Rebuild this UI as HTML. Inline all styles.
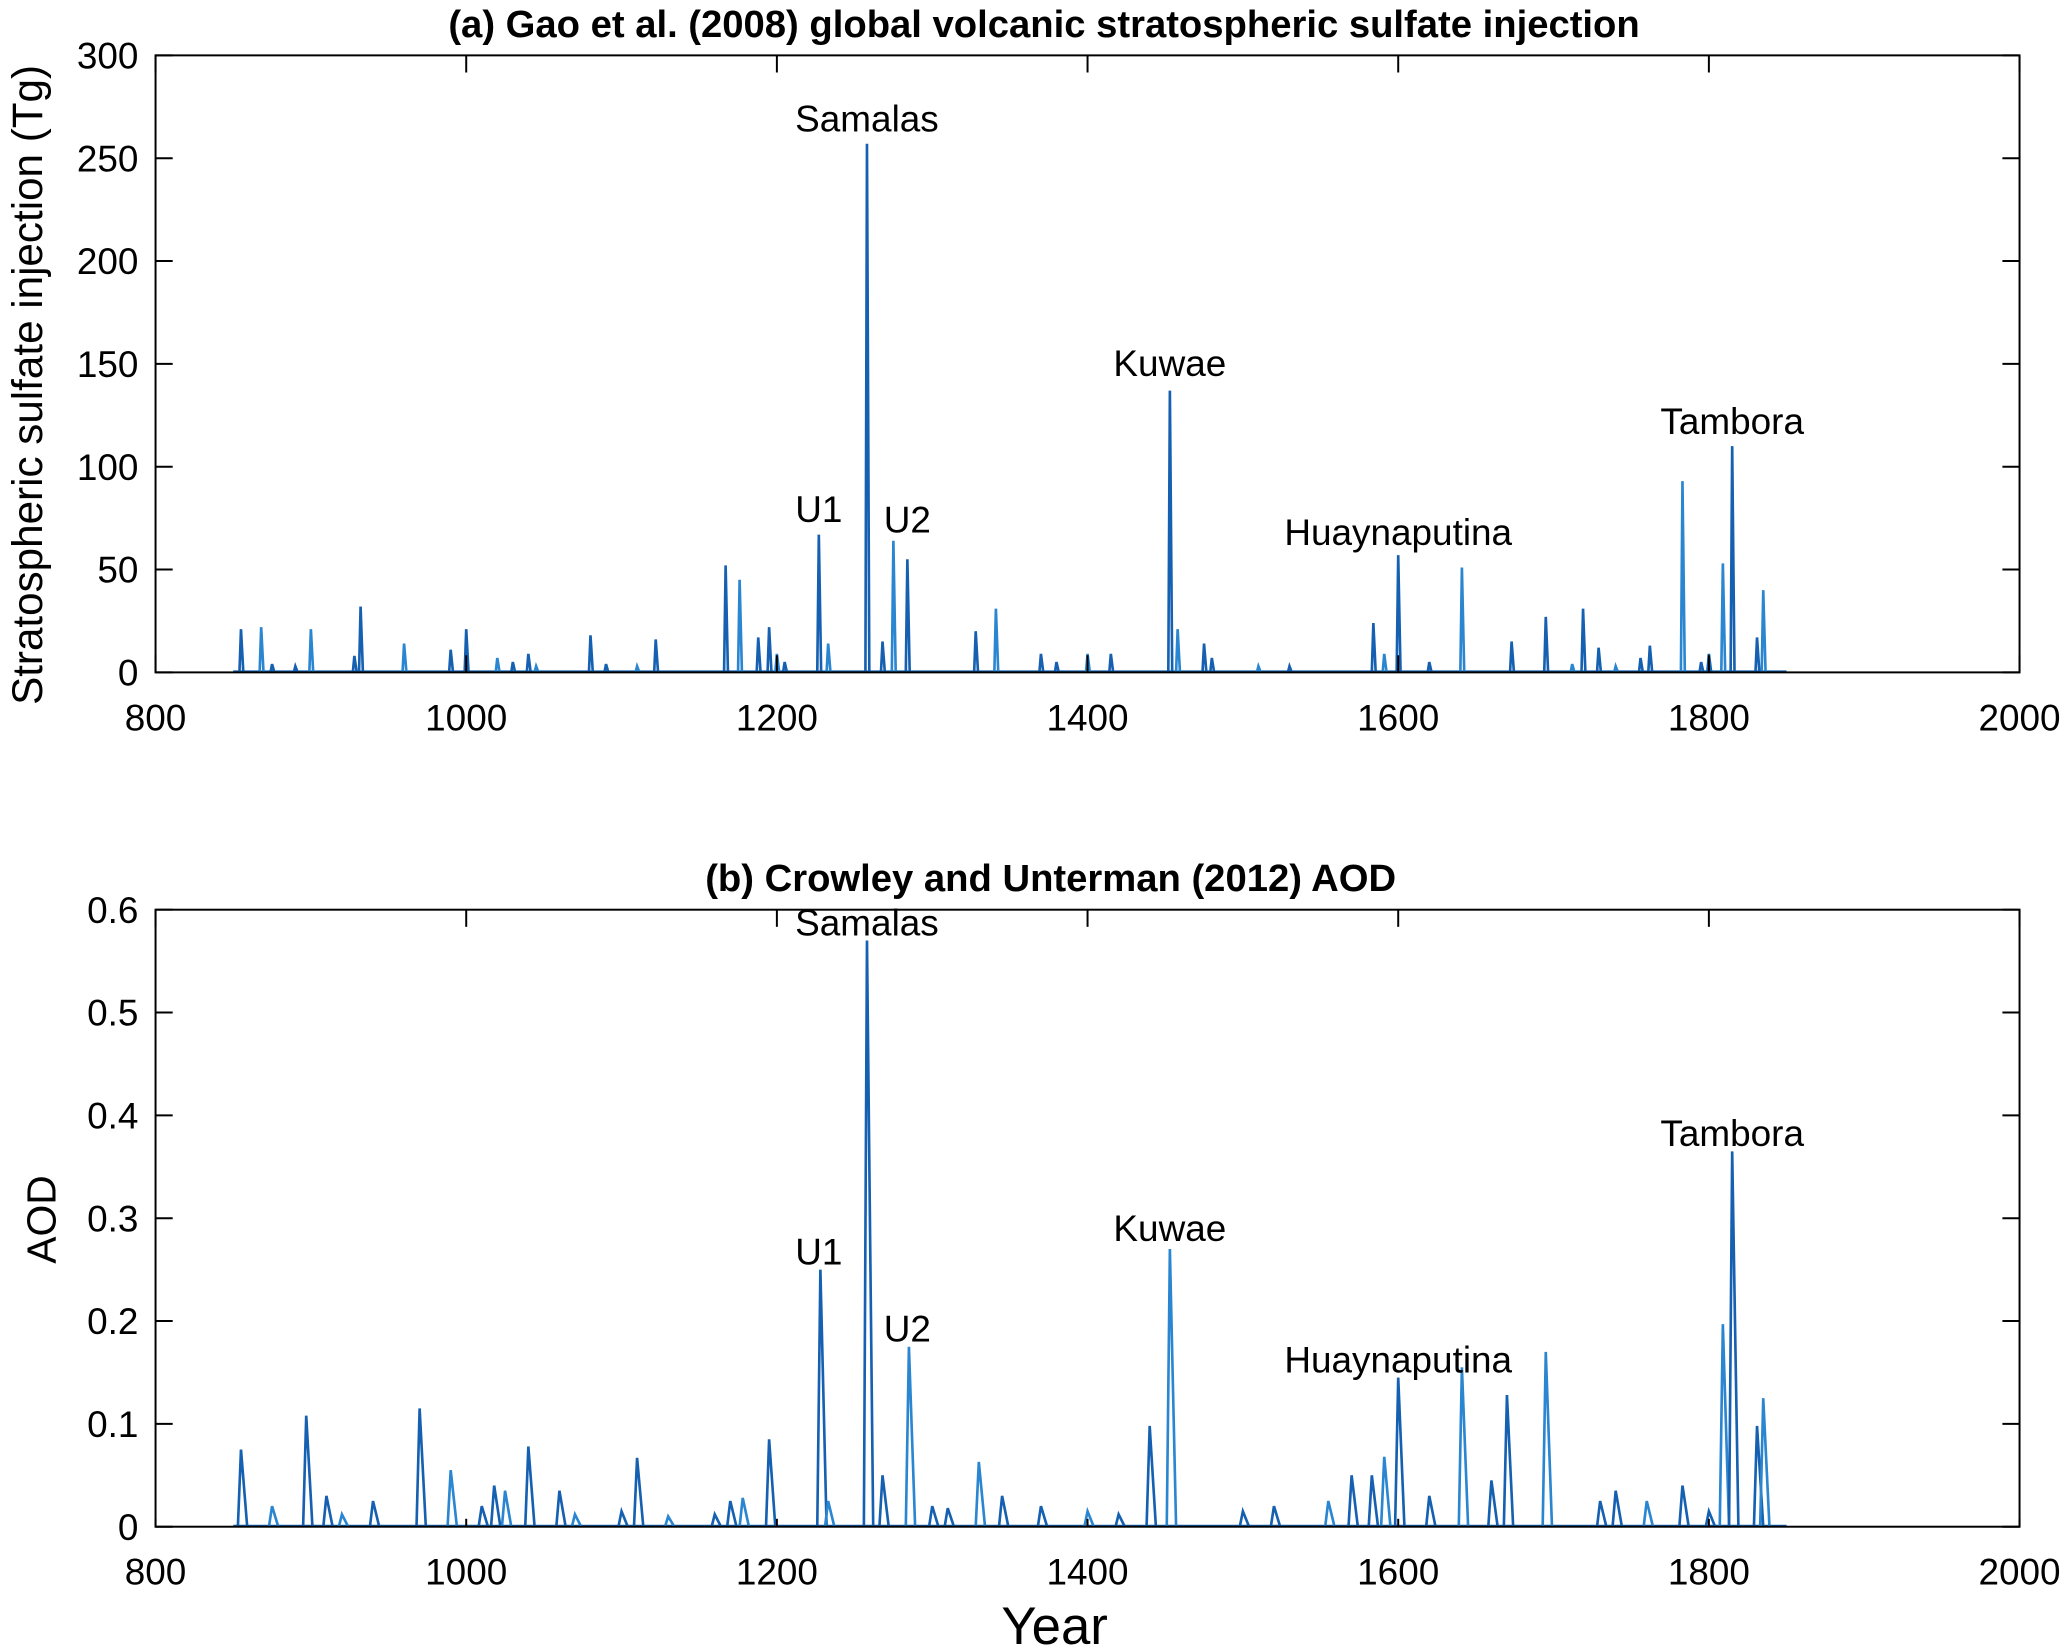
<!DOCTYPE html>
<html><head><meta charset="utf-8"><style>
html,body{margin:0;padding:0;background:#fff;}
svg{display:block;font-family:"Liberation Sans",sans-serif;}
</style></head><body>
<svg id="chart" width="2067" height="1648" viewBox="0 0 1568 1250" preserveAspectRatio="none" xmlns="http://www.w3.org/2000/svg"></svg>
<script>
const xTicks=[800,1000,1200,1400,1600,1800,2000];
const yTicksA=[0,50,100,150,200,250,300];
const yTicksB=[0,0.1,0.2,0.3,0.4,0.5,0.6];
const yTickLabelsB=["0","0.1","0.2","0.3","0.4","0.5","0.6"];
const gaoYears=[855,868,875,890,900,928,932,960,990,1000,1020,1030,1040,1045,1080,1090,1110,1122,1167,1176,1188,1195,1200,1205,1227,1233,1258,1268,1275,1284,1328,1341,1370,1380,1400,1415,1453,1458,1475,1480,1510,1530,1584,1591,1600,1620,1641,1673,1695,1712,1719,1729,1740,1756,1762,1783,1795,1800,1809,1815,1831,1835];
const gaoValues=[21,22,4,3,21,8,32,14,11,21,7,5,9,3,18,4,3,16,52,45,17,22,9,5,67,14,257,15,64,55,20,31,9,5,9,9,137,21,14,7,3,3,24,9,57,5,51,15,27,4,31,12,3,7,13,93,5,9,53,110,17,40];
const aodYears=[855,875,897,910,920,940,970,990,1010,1018,1025,1040,1060,1070,1100,1110,1130,1160,1170,1178,1195,1228,1233,1258,1268,1285,1300,1310,1330,1345,1370,1400,1420,1440,1453,1500,1520,1555,1570,1583,1591,1600,1620,1641,1660,1670,1695,1730,1740,1760,1783,1800,1809,1815,1831,1835];
const aodValues=[0.075,0.02,0.108,0.03,0.012,0.025,0.115,0.055,0.02,0.04,0.035,0.078,0.035,0.012,0.015,0.067,0.01,0.012,0.025,0.028,0.085,0.25,0.025,0.57,0.05,0.175,0.02,0.018,0.063,0.03,0.02,0.015,0.012,0.098,0.27,0.015,0.02,0.025,0.05,0.05,0.068,0.145,0.03,0.155,0.045,0.128,0.17,0.025,0.035,0.025,0.04,0.015,0.197,0.365,0.098,0.125];
const labelNames=["Samalas","U1","U2","Kuwae","Huaynaputina","Tambora"];
const labelYearsA=[1258,1227,1284,1453,1600,1815];
const labelValA=[263,73,68,144,62,116];
const labelValB=[0.575,0.255,0.18,0.278,0.15,0.37];

const NS="http://www.w3.org/2000/svg";
const svg=document.getElementById('chart');
const L=118,R=1532;
function sx(y){return L+(y-800)/1200*(R-L);}
function mk(tag,attrs,parent){const e=document.createElementNS(NS,tag);for(const k in attrs)e.setAttribute(k,attrs[k]);(parent||svg).appendChild(e);return e;}

function panel(id,top,bot,yt,ytl,ymax,years,vals,spikeW,labY,title,titleX,titleY,ylabel,ylx,yly,ylsize){
  const g=mk('g',{});
  
  
  const sy=v=>bot-v/ymax*(bot-top);
  const color='#1560b0';
  const base=mk('line',{x1:sx(850),x2:sx(1850),y1:bot-0.5,y2:bot-0.5,stroke:color,'stroke-width':2},g);
  
  
  years.forEach((yr,i)=>{
    const p=mk('polyline',{points:`${sx(yr-spikeW[0])},${bot} ${sx(yr)},${sy(vals[i])} ${sx(yr+spikeW[1])},${bot}`,fill:'none',stroke:(i%3==1)?'#2a86d0':color,'stroke-width':2},g);
    
    
  });
  const box=mk('rect',{x:L,y:top,width:R-L,height:bot-top,fill:'none',stroke:'#000','stroke-width':1.5},g);
  
  
  xTicks.forEach(t=>{
    const x=sx(t);
    mk('line',{x1:x,x2:x,y1:bot,y2:bot-(id==='panel-b-aod'?6:13),stroke:'#000','stroke-width':1.5},g);
    mk('line',{x1:x,x2:x,y1:top,y2:top+13,stroke:'#000','stroke-width':1.5},g);
    const tx=mk('text',{x:x,y:bot+44,'font-size':28,'text-anchor':'middle'},g);
    tx.textContent=t;
    
    
  });
  yt.forEach((t,i)=>{
    const y=sy(t);
    mk('line',{x1:L,x2:L+13,y1:y,y2:y,stroke:'#000','stroke-width':1.5},g);
    mk('line',{x1:R,x2:R-13,y1:y,y2:y,stroke:'#000','stroke-width':1.5},g);
    const tx=mk('text',{x:L-13,y:y+10,'font-size':28,'text-anchor':'end'},g);
    tx.textContent=ytl[i];
    
    
  });
  labelNames.forEach((n,i)=>{
    const tx=mk('text',{x:sx(labelYearsA[i]),y:sy(labY[i]),'font-size':28,'text-anchor':'middle'},g);
    tx.textContent=n;
    
    
  });
  const tt=mk('text',{x:titleX,y:titleY,'font-size':29,'font-weight':'bold','text-anchor':'middle'},g);
  tt.textContent=title;
  
  
  const yl=mk('text',{x:0,y:0,'font-size':ylsize,'text-anchor':'middle',transform:`translate(${ylx},${yly}) rotate(-90)`},g);
  yl.textContent=ylabel;
  
  
}
panel('panel-a-gao',42,510,yTicksA,yTicksA.map(String),300,gaoYears,gaoValues,[1,1.5],labelValA,
 '(a)  Gao et al. (2008) global volcanic stratospheric sulfate injection',792,28,'Stratospheric sulfate injection (Tg)',32,292,32);
panel('panel-b-aod',690,1158,yTicksB,yTickLabelsB,0.6,aodYears,aodValues,[2,4],labelValB,
 '(b) Crowley and Unterman (2012) AOD',797,676,'AOD',42,925,31);
const xl=mk('text',{x:800,y:1247,'font-size':40,'text-anchor':'middle'});
xl.textContent='Year';


</script>
</body></html>
